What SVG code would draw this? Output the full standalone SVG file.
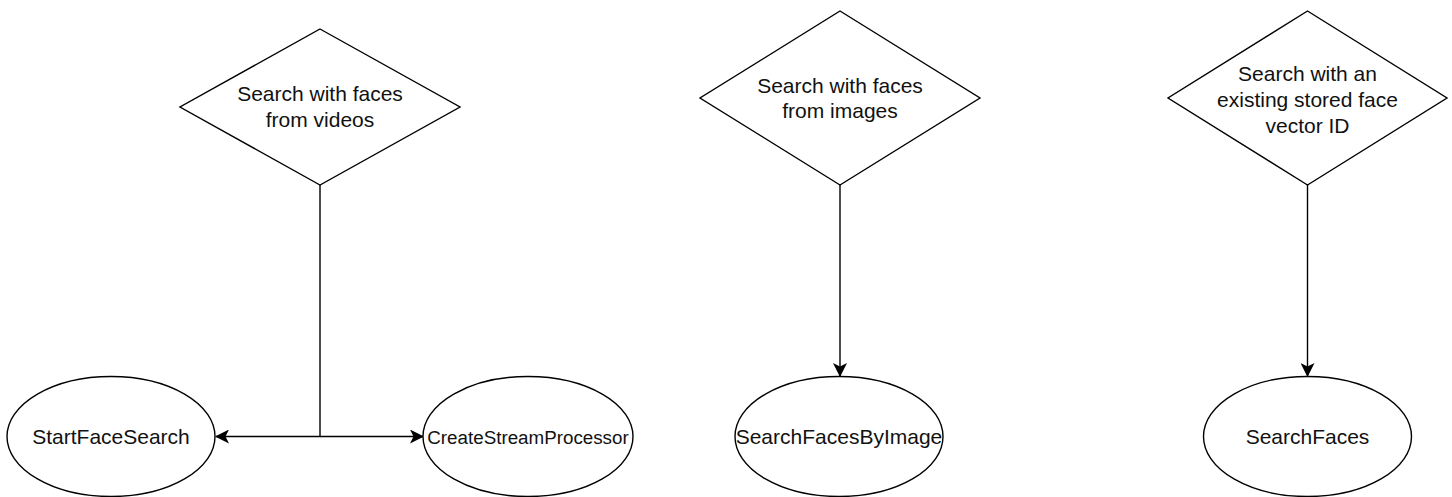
<svg xmlns="http://www.w3.org/2000/svg" width="1452" height="497" viewBox="0 0 1452 497">
<style>
.shape{fill:#ffffff;stroke:#000000;stroke-width:1.4}
.lbl{font-family:"Liberation Sans",Arial,sans-serif;font-size:21px;fill:#111111;text-anchor:middle}
.edge{fill:none;stroke:#000000;stroke-width:1.4}
</style>
<defs>
<marker id="arr" viewBox="0 0 14 14" refX="13" refY="7" markerWidth="14" markerHeight="14" markerUnits="userSpaceOnUse" orient="auto">
<path d="M0,0 L14,7 L0,14 L3.5,7 Z" fill="#000000"/>
</marker>
</defs>
<rect width="1452" height="497" fill="#ffffff"/>
<g id="connectors">
<path class="edge" d="M320,185 V436.5 H216" marker-end="url(#arr)"/>
<path class="edge" d="M320,436.5 H423" marker-end="url(#arr)"/>
<path class="edge" d="M840,185 V376" marker-end="url(#arr)"/>
<path class="edge" d="M1307.5,185 V376" marker-end="url(#arr)"/>
</g>
<g id="d-videos">
<polygon class="shape" points="320,29 460,107 320,185 180,107"/>
<text class="lbl" x="320" y="100.5">Search with faces</text>
<text class="lbl" x="320" y="127">from videos</text>
</g>
<g id="d-images">
<polygon class="shape" points="840,11 980,98 840,185 700,98"/>
<text class="lbl" x="840" y="92.5">Search with faces</text>
<text class="lbl" x="840" y="118">from images</text>
</g>
<g id="d-stored">
<polygon class="shape" points="1307.5,11 1447,98 1307.5,185 1168,98"/>
<text class="lbl" x="1307.5" y="80.5">Search with an</text>
<text class="lbl" x="1307.5" y="107">existing stored face</text>
<text class="lbl" x="1307.5" y="133">vector ID</text>
</g>
<g id="e-startfacesearch">
<ellipse class="shape" cx="111" cy="436.5" rx="104" ry="60"/>
<text class="lbl" x="111" y="444">StartFaceSearch</text>
</g>
<g id="e-createstreamprocessor">
<ellipse class="shape" cx="528" cy="436.5" rx="105" ry="60"/>
<text class="lbl" x="528" y="443.5" style="font-size:18.8px">CreateStreamProcessor</text>
</g>
<g id="e-searchfacesbyimage">
<ellipse class="shape" cx="839" cy="436.5" rx="104" ry="60"/>
<text class="lbl" x="839" y="444">SearchFacesByImage</text>
</g>
<g id="e-searchfaces">
<ellipse class="shape" cx="1307.5" cy="436.5" rx="104" ry="60"/>
<text class="lbl" x="1307.5" y="444">SearchFaces</text>
</g>
</svg>
